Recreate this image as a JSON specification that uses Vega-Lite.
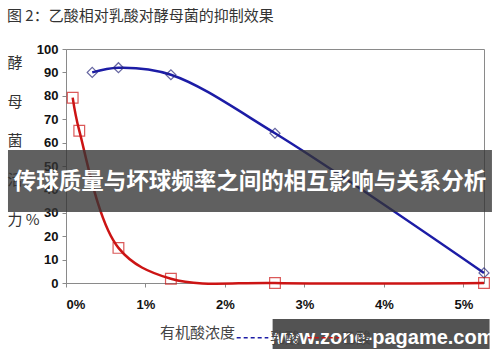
{
  "$schema": "https://vega.github.io/schema/vega-lite/v6.json",
  "width": 418,
  "height": 234,
  "autosize": {"type": "none"},
  "padding": {"left": 66, "top": 49, "right": 16, "bottom": 79},
  "background": "white",
  "title": {
    "text": "图 2：乙酸相对乳酸对酵母菌的抑制效果",
    "anchor": "start",
    "frame": "group",
    "dx": -59,
    "offset": 19,
    "fontSize": 15,
    "fontWeight": "normal",
    "color": "#333333",
    "font": "Noto Sans CJK SC"
  },
  "config": {
    "view": {"stroke": "#8a8a8a", "strokeWidth": 1},
    "axis": {"grid": false}
  },
  "encoding": {
    "x": {
      "field": "x",
      "type": "quantitative",
      "scale": {"domain": [0, 0.0526], "nice": false, "zero": false},
      "axis": {
        "title": null,
        "values": [0, 0.01, 0.02, 0.03, 0.04, 0.05],
        "format": ".0%",
        "domainColor": "#8a8a8a",
        "tickColor": "#8a8a8a",
        "tickSize": 4,
        "labelPadding": 11,
        "labelFont": "Liberation Sans",
        "labelFontWeight": "bold",
        "labelFontSize": 13,
        "labelColor": "#111111"
      }
    },
    "y": {
      "field": "y",
      "type": "quantitative",
      "scale": {"domain": [0, 100], "nice": false, "zero": false},
      "axis": {
        "values": [0, 10, 20, 30, 40, 50, 60, 70, 80, 90, 100],
        "domainColor": "#8a8a8a",
        "tickColor": "#8a8a8a",
        "tickSize": 4,
        "labelPadding": 4,
        "labelFont": "Liberation Sans",
        "labelFontWeight": "bold",
        "labelFontSize": 13,
        "labelColor": "#111111",
        "title": ["酵", "母", "菌", "活", "力 %"],
        "titleAngle": 0,
        "titleAlign": "left",
        "titleBaseline": "top",
        "titleX": -59,
        "titleY": 6,
        "titleLineHeight": 39.3,
        "titleFont": "Noto Sans CJK SC",
        "titleFontSize": 15,
        "titleFontWeight": "normal",
        "titleColor": "#333333"
      }
    }
  },
  "layer": [
    {
      "data": {"name": "main", "values": [
        {"series": "乳酸", "x": 0.0033, "y": 90},
        {"series": "乳酸", "x": 0.0066, "y": 92},
        {"series": "乳酸", "x": 0.0132, "y": 89},
        {"series": "乳酸", "x": 0.0263, "y": 64},
        {"series": "乳酸", "x": 0.0526, "y": 4.3},
        {"series": "乙酸", "x": 0.00084, "y": 79.2},
        {"series": "乙酸", "x": 0.00167, "y": 65.1},
        {"series": "乙酸", "x": 0.0066, "y": 15},
        {"series": "乙酸", "x": 0.0132, "y": 1.8},
        {"series": "乙酸", "x": 0.0263, "y": 0},
        {"series": "乙酸", "x": 0.0526, "y": 0}
      ]},
      "mark": {"type": "line", "interpolate": "catmull-rom", "strokeWidth": 2.5},
      "encoding": {
        "color": {
          "field": "series",
          "type": "nominal",
          "scale": {"domain": ["乳酸", "乙酸"], "range": ["#1c1ca6", "#cc1414"]},
          "legend": {
            "orient": "none",
            "legendX": 94,
            "legendY": 272,
            "direction": "horizontal",
            "title": "有机酸浓度",
            "titleOrient": "left",
            "titleFont": "Noto Sans CJK SC",
            "titleFontSize": 15,
            "titleFontWeight": "normal",
            "titleColor": "#444444",
            "titlePadding": 0,
            "titleBaseline": "middle",
            "labelFont": "Noto Sans CJK SC",
            "labelFontSize": 15,
            "labelColor": "#444444",
            "labelOffset": 1,
            "columnPadding": 4,
            "padding": 0,
            "symbolType": "stroke",
            "symbolSize": 1000,
            "symbolStrokeWidth": 1.3,
            "symbolDash": [4, 3]
          }
        }
      }
    },
    {
      "data": {"name": "main"},
      "transform": [{"filter": "datum.series === '乳酸'"}],
      "mark": {"type": "point", "shape": "diamond", "filled": false, "strokeWidth": 1.2, "size": 100, "color": "#25257a"}
    },
    {
      "data": {"name": "main"},
      "transform": [{"filter": "datum.series === '乙酸'"}],
      "mark": {"type": "point", "shape": "square", "filled": false, "strokeWidth": 1.2, "size": 115, "color": "#cc1414"}
    },
    {
      "data": {"values": [{"x": -0.0073, "x2": 0.0536, "y": 30.3, "y2": 56.8}]},
      "mark": {"type": "rect", "color": "#333333", "opacity": 0.78},
      "encoding": {"x2": {"field": "x2"}, "y2": {"field": "y2"}}
    },
    {
      "data": {"values": [{"x": 0.0260, "x2": 0.0533, "y": -15.4, "y2": -28.2}]},
      "mark": {"type": "rect", "color": "#4a4a4a", "opacity": 0.95},
      "encoding": {"x2": {"field": "x2"}, "y2": {"field": "y2"}}
    },
    {
      "data": {"values": [
        {"x": 0.02314, "y": 43.2, "label": "传球质量与坏球频率之间的相互影响与关系分析"}
      ]},
      "mark": {"type": "text", "color": "white", "font": "Noto Sans CJK SC", "fontWeight": "bold", "fontSize": 22.5, "align": "center", "baseline": "middle"},
      "encoding": {"text": {"field": "label"}}
    },
    {
      "data": {"values": [
        {"x": 0.0397, "y": -23.3, "label": "www.zone-pagame.com"}
      ]},
      "mark": {"type": "text", "color": "white", "font": "Liberation Sans", "fontWeight": "bold", "fontSize": 20, "align": "center", "baseline": "middle"},
      "encoding": {"text": {"field": "label"}}
    }
  ]
}
